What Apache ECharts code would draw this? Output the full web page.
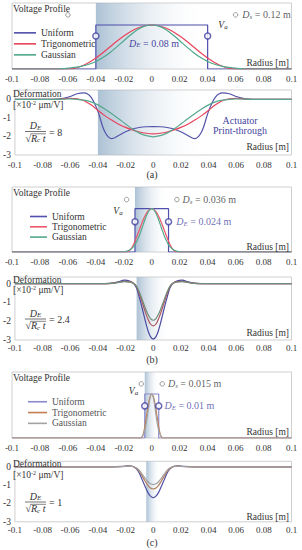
<!DOCTYPE html>
<html><head><meta charset="utf-8">
<script src="https://cdn.jsdelivr.net/npm/echarts@6/dist/echarts.min.js"></script>
<style>html,body{margin:0;padding:0;background:#fff}#c{width:302px;height:550px}</style>
</head><body><div id="c"></div>
<script>
// ---------- data ----------
const xTickLabels = ['-0.1','-0.08','-0.06','-0.04','-0.02','0','0.02','0.04','0.06','0.08','0.1'];
const seriesNames = ['Uniform','Trigonometric','Gaussian'];
const electrodeD = [0.08, 0.024, 0.01];      // D_E
const supportD = [0.12, 0.036, 0.015];       // D_s
const ratioLabels = ['8', '2.4', '1'];
const panelLabels = ['(a)', '(b)', '(c)'];

// (a) voltage profile
const voltA_x = [-0.1,-0.07,-0.065,-0.06,-0.055,-0.05,-0.045,-0.04,-0.035,-0.03,-0.025,-0.02,-0.015,-0.01,-0.005,0,0.005,0.01,0.015,0.02,0.025,0.03,0.035,0.04,0.045,0.05,0.055,0.06,0.065,0.07,0.1];
const voltA_trig = [0,0,0,0,0.017,0.067,0.146,0.25,0.371,0.5,0.629,0.75,0.854,0.933,0.983,1,0.983,0.933,0.854,0.75,0.629,0.5,0.371,0.25,0.146,0.067,0.017,0,0,0,0];
const voltA_gauss = [0,0,0.005,0.019,0.036,0.064,0.107,0.171,0.259,0.371,0.502,0.643,0.78,0.896,0.973,1,0.973,0.896,0.78,0.643,0.502,0.371,0.259,0.171,0.107,0.064,0.036,0.019,0.005,0,0];
const voltA_uni_x = [-0.1,-0.04,-0.04,0.04,0.04,0.1];
const voltA_uni = [0,0,1,1,0,0];
// (b) voltage profile
const voltB_x = [-0.1,-0.021,-0.0195,-0.018,-0.0165,-0.015,-0.0135,-0.012,-0.0105,-0.009,-0.0075,-0.006,-0.0045,-0.003,-0.0015,0,0.0015,0.003,0.0045,0.006,0.0075,0.009,0.0105,0.012,0.0135,0.015,0.0165,0.018,0.0195,0.021,0.1];
const voltB_trig = [0,0,0,0,0.017,0.067,0.146,0.25,0.371,0.5,0.629,0.75,0.854,0.933,0.983,1,0.983,0.933,0.854,0.75,0.629,0.5,0.371,0.25,0.146,0.067,0.017,0,0,0,0];
const voltB_gauss = [0,0,0.005,0.019,0.036,0.064,0.107,0.171,0.259,0.371,0.502,0.643,0.78,0.896,0.973,1,0.973,0.896,0.78,0.643,0.502,0.371,0.259,0.171,0.107,0.064,0.036,0.019,0.005,0,0];
const voltB_uni_x = [-0.1,-0.012,-0.012,0.012,0.012,0.1];
const voltB_uni = [0,0,1,1,0,0];
// (c) voltage profile
const voltC_x = [-0.1,-0.009,-0.008,-0.007,-0.006,-0.005,-0.004,-0.003,-0.002,-0.001,0,0.001,0.002,0.003,0.004,0.005,0.006,0.007,0.008,0.009,0.1];
const voltC_trig = [0,0,0,0.011,0.095,0.25,0.448,0.655,0.835,0.957,1,0.957,0.835,0.655,0.448,0.25,0.095,0.011,0,0,0];
const voltC_gauss = [0,0,0,0.031,0.079,0.171,0.323,0.529,0.754,0.932,1,0.932,0.754,0.529,0.323,0.171,0.079,0.031,0,0,0];
const voltC_uni_x = [-0.1,-0.005,-0.005,0.005,0.005,0.1];
const voltC_uni = [0,0,1,1,0,0];

// (a) deformation [x10^-2 um/V]
const defA_x = [-0.1,-0.075,-0.07,-0.065,-0.06,-0.055,-0.05,-0.045,-0.04,-0.035,-0.03,-0.025,-0.02,-0.015,-0.01,-0.005,0,0.005,0.01,0.015,0.02,0.025,0.03,0.035,0.04,0.045,0.05,0.055,0.06,0.065,0.07,0.075,0.1];
const defA_uni = [0,0,0.01,0.05,0.15,0.3,0.35,0.12,-0.65,-1.75,-2.12,-1.95,-1.75,-1.6,-1.52,-1.48,-1.47,-1.48,-1.52,-1.6,-1.75,-1.95,-2.12,-1.75,-0.65,0.12,0.35,0.3,0.15,0.05,0.01,0,0];
const defA_trig = [0,0,0,0.02,0.05,0.03,-0.08,-0.3,-0.6,-0.88,-1.12,-1.34,-1.51,-1.65,-1.76,-1.83,-1.86,-1.83,-1.76,-1.65,-1.51,-1.34,-1.12,-0.88,-0.6,-0.3,-0.08,0.03,0.05,0.02,0,0,0];
const defA_gauss = [0,0,0,0.01,0.02,0,-0.05,-0.14,-0.3,-0.52,-0.78,-1.05,-1.33,-1.6,-1.82,-1.96,-2.02,-1.96,-1.82,-1.6,-1.33,-1.05,-0.78,-0.52,-0.3,-0.14,-0.05,0,0.02,0.01,0,0,0];
// (b) deformation
const defB_x = [-0.1,-0.035,-0.03,-0.025,-0.021,-0.017,-0.014,-0.012,-0.01,-0.008,-0.006,-0.004,-0.002,0,0.002,0.004,0.006,0.008,0.01,0.012,0.014,0.017,0.021,0.025,0.03,0.035,0.1];
const defB_uni = [0,0,0.02,0.1,0.18,0.14,0,-0.25,-0.75,-1.3,-1.9,-2.45,-2.82,-2.95,-2.82,-2.45,-1.9,-1.3,-0.75,-0.25,0,0.14,0.18,0.1,0.02,0,0];
const defB_trig = [0,0,0.01,0.07,0.12,0.1,0,-0.18,-0.55,-0.98,-1.45,-1.85,-2.15,-2.25,-2.15,-1.85,-1.45,-0.98,-0.55,-0.18,0,0.1,0.12,0.07,0.01,0,0];
const defB_gauss = [0,0,0.01,0.06,0.1,0.08,0,-0.15,-0.46,-0.84,-1.24,-1.6,-1.86,-1.95,-1.86,-1.6,-1.24,-0.84,-0.46,-0.15,0,0.08,0.1,0.06,0.01,0,0];
// (c) deformation
const defC_x = [-0.1,-0.03,-0.022,-0.018,-0.015,-0.012,-0.01,-0.008,-0.006,-0.004,-0.002,0,0.002,0.004,0.006,0.008,0.01,0.012,0.015,0.018,0.022,0.03,0.1];
const defC_uni = [0,0,0.02,0.05,0.03,-0.12,-0.35,-0.7,-1.05,-1.38,-1.6,-1.68,-1.6,-1.38,-1.05,-0.7,-0.35,-0.12,0.03,0.05,0.02,0,0];
const defC_trig = [0,0,0.015,0.035,0.02,-0.09,-0.26,-0.5,-0.76,-1.0,-1.16,-1.21,-1.16,-1.0,-0.76,-0.5,-0.26,-0.09,0.02,0.035,0.015,0,0];
const defC_gauss = [0,0,0.01,0.03,0.015,-0.07,-0.2,-0.4,-0.61,-0.8,-0.93,-0.97,-0.93,-0.8,-0.61,-0.4,-0.2,-0.07,0.015,0.03,0.01,0,0];

// marker circles (D_s and D_E positions on the voltage profiles)
const dsA = [[-0.06,1.23],[0.06,1.23]];
const deA = [[-0.04,0.75],[0.04,0.75]];
const dsB = [[-0.018,1.21],[0.018,1.21]];
const deB = [[-0.012,0.7],[0.012,0.7]];
const dsC = [[-0.0075,1.23],[0.0075,1.23]];
const deC = [[-0.005,0.73],[0.005,0.73]];

// ---------- styling / layout ----------
const FONT = '"Liberation Serif","Times New Roman",serif';
const TXT = '#333';
const BLUE_TXT = '#4646a0';
const voltColors = [['#4d4daa','#e8435a','#4da88c'],['#4f4fae','#ee5569','#52aa8c'],['#8a8acc','#c47e52','#a3a3a3']];
const defColors = [['#5353aa','#e8435a','#55a88e'],['#4a4aa0','#b0525c','#6f8f78'],['#5050a8','#b27e5c','#a0a0a0']];
const grids = [
  {left:12, right:10.5, top:3, height:66},
  {left:12, right:10.5, top:90, height:65},
  {left:12, right:10.5, top:187, height:65},
  {left:12, right:10.5, top:277, height:63},
  {left:12, right:10.5, top:372, height:66},
  {left:12, right:10.5, top:461.3, height:60.5}
];
const defMax = [0.5, 0.35, 0.3];

const volt = [
  {x: voltA_x, trig: voltA_trig, gauss: voltA_gauss, ux: voltA_uni_x, u: voltA_uni, ds: dsA, de: deA},
  {x: voltB_x, trig: voltB_trig, gauss: voltB_gauss, ux: voltB_uni_x, u: voltB_uni, ds: dsB, de: deB},
  {x: voltC_x, trig: voltC_trig, gauss: voltC_gauss, ux: voltC_uni_x, u: voltC_uni, ds: dsC, de: deC}
];
const defo = [
  {x: defA_x, u: defA_uni, trig: defA_trig, gauss: defA_gauss},
  {x: defB_x, u: defB_uni, trig: defB_trig, gauss: defB_gauss},
  {x: defC_x, u: defC_uni, trig: defC_trig, gauss: defC_gauss}
];

function pairs(xs, ys){ return xs.map((x,i)=>[x, ys[i]]); }
function line(name, xs, ys, gi, color, smooth){
  return {type:'line', name, xAxisIndex:gi, yAxisIndex:gi, data:pairs(xs,ys), symbol:'none', showSymbol:false,
    smooth: smooth ? 0.35 : false, lineStyle:{color, width:1.2}, itemStyle:{color}, z:3, silent:true, animation:false};
}
function richL(color, size){
  size = size || 10;
  return {
    i:{fontFamily:FONT, fontStyle:'italic', fontSize:size, color, lineHeight:11},
    s:{fontFamily:FONT, fontStyle:'italic', fontSize:7, color, verticalAlign:'bottom', lineHeight:7},
    n:{fontFamily:FONT, fontSize:size, color, lineHeight:11}
  };
}
function richG(color, size, lh){
  size = size || 10; lh = lh || 11;
  return {
    i:{fontFamily:FONT, fontStyle:'italic', fontSize:size, fill:color, lineHeight:lh},
    s:{fontFamily:FONT, fontStyle:'italic', fontSize:7, fill:color, verticalAlign:'bottom', lineHeight:7},
    n:{fontFamily:FONT, fontSize:size, fill:color, lineHeight:lh},
    u:{fontFamily:FONT, fontSize:6, fill:color, verticalAlign:'top', lineHeight:6}
  };
}
function T(x, y, text, o){
  o = o || {};
  const st = {text, fill:o.color||TXT, fontFamily:FONT, fontSize:o.size||9.5, fontStyle:o.italic?'italic':'normal',
    align:o.align||'left', verticalAlign:'middle', textAlign:o.align||'left', textVerticalAlign:'middle'};
  if (o.rich) st.rich = o.rich;
  return {type:'text', x, y, silent:true, z:10, style:st};
}
function L(x1,y1,x2,y2,w){
  return {type:'line', silent:true, z:10, shape:{x1,y1,x2,y2}, style:{stroke:TXT, lineWidth:w||0.7}};
}

const shadeGrad = new echarts.graphic.LinearGradient(0,0,1,0,[
  {offset:0, color:'rgba(140,170,196,0.72)'},
  {offset:1, color:'rgba(255,255,255,0)'}
]);

const xAxis = [], yAxis = [], series = [], legend = [], graphic = [];
for (let g = 0; g < 6; g++) {
  const isVolt = g % 2 === 0;
  const p = Math.floor(g / 2);
  xAxis.push({type:'value', gridIndex:g, min:-0.1, max:0.1, interval:0.02,
    axisLine:{show:false}, axisTick:{show:false}, splitLine:{show:false},
    axisLabel:{fontFamily:FONT, fontSize:9, color:TXT, margin:(isVolt || p===0) ? 5 : 3.5, formatter:(v,i)=>xTickLabels[i] ?? ''}});
  if (isVolt) {
    yAxis.push({type:'value', gridIndex:g, min:0, max:1.5, axisLine:{show:false}, axisTick:{show:false},
      splitLine:{show:false}, axisLabel:{show:false}});
  } else {
    yAxis.push({type:'value', gridIndex:g, min:-3, max:defMax[p], interval:1, axisLine:{show:false}, axisTick:{show:false},
      splitLine:{show:false},
      axisLabel:{fontFamily:FONT, fontSize:9.5, color:TXT, margin:4, showMaxLabel:false,
        formatter:v=> Math.abs(v-Math.round(v))<1e-9 ? String(Math.round(v)) : ''}});
  }
  // electrode shading
  const h = electrodeD[p] / 2;
  series.push({type:'line', xAxisIndex:g, yAxisIndex:g, data:[[-0.1,0]], symbol:'none', showSymbol:false,
    lineStyle:{opacity:0}, silent:true, z:1, animation:false,
    markArea:{silent:true, itemStyle:{color:shadeGrad}, data:[[{xAxis:-h},{xAxis:h}]]}});
  if (isVolt) {
    const d = volt[p], c = voltColors[p];
    series.push(line('Uniform', d.ux, d.u, g, c[0], false));
    series.push(line('Trigonometric', d.x, d.trig, g, c[1], true));
    series.push(line('Gaussian', d.x, d.gauss, g, c[2], true));
  } else {
    const d = defo[p], c = defColors[p];
    series.push(line('Uniform', d.x, d.u, g, c[0], true));
    series.push(line('Trigonometric', d.x, d.trig, g, c[1], true));
    series.push(line('Gaussian', d.x, d.gauss, g, c[2], true));
  }
}

// marker circles with labels
const dsText = ['0.12 m','0.036 m','0.015 m'];
const deText = ['0.08 m','0.024 m','0.01 m'];
for (let p = 0; p < 3; p++) {
  const g = p * 2, d = volt[p];
  series.push({type:'scatter', xAxisIndex:g, yAxisIndex:g, symbol:'circle', symbolSize:4.5, silent:true, z:6, animation:false,
    itemStyle:{color:'#fff', borderColor:'#777', borderWidth:0.9},
    data:[{value:d.ds[0]}, {value:d.ds[1], label:{show:true, position:'right', distance:p===0?4:3,
      formatter:'{i|D}{s|s}{n| = '+dsText[p]+'}', rich:richL(TXT)}}]});
  series.push({type:'scatter', xAxisIndex:g, yAxisIndex:g, symbol:'circle', symbolSize:6, silent:true, z:6, animation:false,
    itemStyle:{color:'#fff', borderColor:'#4040a0', borderWidth:1.5},
    data: p === 0 ? [{value:d.de[0]},{value:d.de[1]}] :
      [{value:d.de[0]}, {value:d.de[1], label:{show:true, position:'right', distance:p===1?4:2,
        formatter:'{i|D}{s|E}{n| = '+deText[p]+'}', rich:richL(BLUE_TXT)}}]});
}

// legends
const legendTops = [27.5, 211.5, 396.5];
const legendLefts = [14, 30, 28];
const legendIconW = [22, 17, 19];
const legendLH = [10.7, 10, 10.5];
for (let p = 0; p < 3; p++) {
  legend.push({orient:'vertical', left:legendLefts[p], top:legendTops[p], padding:0, itemGap:0.3,
    itemWidth:legendIconW[p], itemHeight:1.6, icon:'rect', selectedMode:false,
    textStyle:{fontFamily:FONT, fontSize:9.5, color:p===2?'#555':TXT, lineHeight:legendLH[p]},
    data: seriesNames.map((n,k)=>({name:n, icon:'rect', itemStyle:{color:voltColors[p][k]}}))});
}

// text annotations
const voltTitleY = [8.5, 193, 378];
const radiusY = [63, 147, 246.5, 333, 431.5, 516.5];
const defTitleY = [94, 279.5, 464];
const fracCY = [131.5, 319, 502];
const panelY = [174, 359, 542];
const vaPos = [[223, 25], [118, 211], [133.5, 391]];
for (let p = 0; p < 3; p++) {
  graphic.push(T(13, voltTitleY[p], 'Voltage Profile'));
  graphic.push(T(13, defTitleY[p], 'Deformation'));
  graphic.push(T(13, defTitleY[p] + 10.5, '{n|[×10}{u|-2}{n| μm/V]}', {rich:richG(TXT, 9.5, 9.5)}));
  graphic.push(T(vaPos[p][0], vaPos[p][1], '{i|V}{s|a}', {align:'center', rich:richG(TXT, 9.5)}));
  graphic.push(T(152, panelY[p], panelLabels[p], {align:'center', size:10}));
  // fraction D_E / sqrt(R_c t)
  const cx = 35.5, cy = fracCY[p];
  graphic.push(T(cx, cy - 6, '{i|D}{s|E}', {align:'center', rich:richG(TXT, 10)}));
  graphic.push(L(25, cy, 46, cy, 0.7));
  graphic.push(T(cx, cy + 6.5, '{n|√}{i|R}{s|c}{i| t}', {align:'center', rich:richG(TXT, 10)}));
  graphic.push(L(30.5, cy + 2.3, 46, cy + 2.3, 0.6));
  graphic.push(T(49, cy + 0.5, '= ' + ratioLabels[p], {size:10}));
}
for (let g = 0; g < 6; g++) graphic.push(T(289, radiusY[g], 'Radius [m]', {align:'right'}));
graphic.push(T(154, 43, '{i|D}{s|E}{n| = 0.08 m}', {align:'center', rich:richG(BLUE_TXT, 10)}));
graphic.push(T(240, 120, 'Actuator', {align:'center', size:10, color:BLUE_TXT}));
graphic.push(T(240, 130.5, 'Print-through', {align:'center', size:10, color:BLUE_TXT}));

const chart = echarts.init(document.getElementById('c'), null, {renderer:'svg'});
chart.setOption({
  animation:false,
  backgroundColor:'#fff',
  grid: grids.map(gr => Object.assign({show:true, borderColor:'#cfcfcf', borderWidth:1, backgroundColor:'transparent'}, gr)),
  xAxis, yAxis, series, legend, graphic
});
</script></body></html>
